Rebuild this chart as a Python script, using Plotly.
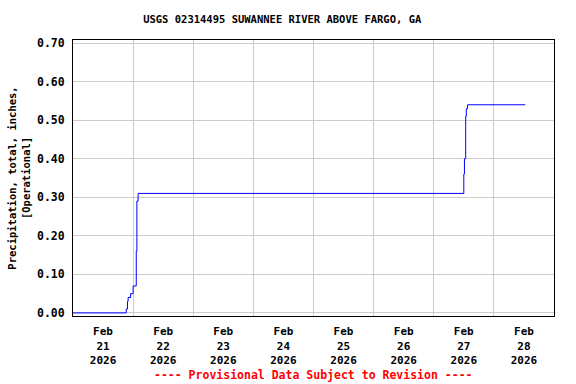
import plotly.graph_objects as go

times = ["2026-02-21 00:00", "2026-02-21 21:15", "2026-02-21 21:45", "2026-02-21 22:00",
         "2026-02-21 23:00", "2026-02-22 00:00", "2026-02-22 01:15", "2026-02-22 01:30",
         "2026-02-22 02:00", "2026-02-27 12:00", "2026-02-27 12:15", "2026-02-27 12:45",
         "2026-02-27 13:00", "2026-02-27 13:30", "2026-02-28 12:30"]
precip = [0.00, 0.01, 0.03, 0.04, 0.05, 0.07, 0.16, 0.29, 0.31, 0.36, 0.40, 0.51, 0.53, 0.54, 0.54]

title = "USGS 02314495 SUWANNEE RIVER ABOVE FARGO, GA"
ylabel = "Precipitation, total, inches,<br>[Operational]"
footer = "---- Provisional Data Subject to Revision ----"

FONT = "DejaVu Sans Mono"

fig = go.Figure()
fig.add_trace(go.Scatter(x=times, y=precip, mode="lines", line=dict(color="#0000ff", width=1, shape="hv"),
                         showlegend=False, hoverinfo="skip"))

fig.update_layout(
    width=576, height=384,
    margin=dict(l=71, r=22, t=40, b=68),
    paper_bgcolor="white", plot_bgcolor="white",
    title=dict(text=title, x=0.49, xref="container", xanchor="center", y=1 - 19 / 384, yanchor="middle",
               font=dict(family=FONT, size=10.5, color="black", weight="bold")),
    font=dict(family=FONT, color="black"),
)
fig.update_xaxes(
    type="date", range=["2026-02-21 00:00", "2026-03-01 00:00"],
    tick0="2026-02-21", dtick=86400000, ticklabelmode="period",
    tickformat="%b<br>%d<br>%Y", ticklabelstandoff=5,
    tickfont=dict(family=FONT, size=11, weight="bold"),
    showgrid=True, gridcolor="#cccccc", gridwidth=1,
    showline=True, linecolor="black", linewidth=1, mirror=True,
    ticks="", zeroline=False,
)
fig.update_yaxes(
    range=[-0.008, 0.708], tick0=0, dtick=0.1, tickformat=".2f",
    tickfont=dict(family=FONT, size=11.5, weight="bold"), ticklabelstandoff=5,
    showgrid=True, gridcolor="#cccccc", gridwidth=1,
    showline=True, linecolor="black", linewidth=1, mirror=True,
    ticks="", zeroline=False,
    title=dict(text=ylabel, font=dict(family=FONT, size=10.5, weight="bold"), standoff=4),
)
fig.add_annotation(text=footer, xref="paper", yref="paper", x=0.5, y=-(375 - 316) / 276, yanchor="middle",
                   showarrow=False, font=dict(family=FONT, size=11.5, color="#ff0000", weight="bold"))

fig.write_html("out.html")
